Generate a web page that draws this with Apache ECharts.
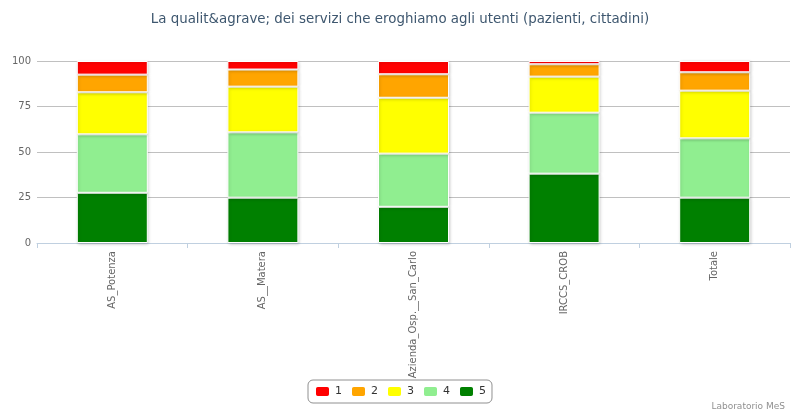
<!DOCTYPE html>
<html>
<head>
<meta charset="utf-8">
<script src="https://cdn.jsdelivr.net/npm/echarts@6/dist/echarts.min.js"></script>
<style>html,body{margin:0;padding:0;background:#fff}#c{width:800px;height:418px}</style>
</head>
<body>
<div id="c"></div>
<script>
const categories = ['AS_Potenza', 'AS__Matera', 'Azienda_Osp.__San_Carlo', 'IRCCS_CROB', 'Totale'];
const s1 = [7.5, 4.7, 7.3, 1.8, 6.2];
const s2 = [9.7, 9.4, 12.9, 6.8, 10.1];
const s3 = [23.1, 25.1, 30.7, 19.8, 26.2];
const s4 = [32.1, 35.9, 29.2, 33.5, 32.6];
const s5 = [27.6, 24.9, 19.9, 38.1, 24.9];
const yTicks = [0, 25, 50, 75, 100];
const seriesNames = ['1', '2', '3', '4', '5'];
const colors = {'1': '#FF0000', '2': '#FFA500', '3': '#FFFF00', '4': '#90EE90', '5': '#008000'};

const font = 'DejaVu Sans';
const chart = echarts.init(document.getElementById('c'), null, {renderer: 'canvas'});
function mk(name, data) {
  return {
    name: name, type: 'bar', stack: 'tot', data: data, barWidth: 71,
    itemStyle: {color: colors[name], borderColor: '#ffffff', borderWidth: 1,
      shadowColor: 'rgba(0,0,0,0.18)', shadowBlur: 3, shadowOffsetX: 1, shadowOffsetY: 1},
    emphasis: {disabled: true}
  };
}
chart.setOption({
  animation: false,
  backgroundColor: '#ffffff',
  textStyle: {fontFamily: font},
  title: [{
    text: 'La qualit&agrave; dei servizi che eroghiamo agli utenti (pazienti, cittadini)',
    left: 'center', top: 8,
    textStyle: {fontFamily: font, fontSize: 13.4, fontWeight: 'normal', color: '#3E576F'}
  }, {
    text: 'Laboratorio MeS', right: 10, bottom: 2,
    textStyle: {fontFamily: font, fontSize: 9, fontWeight: 'normal', color: '#909090'}
  }],
  legend: {
    data: seriesNames, bottom: 15, left: 'center',
    borderColor: '#909090', borderWidth: 1, borderRadius: 5,
    padding: [5, 6, 5, 6],
    itemWidth: 15, itemHeight: 11, itemGap: 8,
    icon: 'roundRect',
    textStyle: {fontFamily: font, fontSize: 11, color: '#333333'}
  },
  grid: {left: 37, right: 10, top: 61, bottom: 175, containLabel: false},
  xAxis: {
    type: 'category', data: categories,
    axisLine: {lineStyle: {color: '#C0D0E0'}},
    axisTick: {show: true, length: 5, lineStyle: {color: '#C0D0E0'}},
    axisLabel: {rotate: 90, fontSize: 10, color: '#666666', margin: 8, fontFamily: font}
  },
  yAxis: {
    type: 'value', min: yTicks[0], max: yTicks[yTicks.length - 1], interval: 25,
    axisLine: {show: false}, axisTick: {show: false},
    splitLine: {lineStyle: {color: '#C0C0C0'}},
    axisLabel: {fontSize: 10, color: '#666666', margin: 6, fontFamily: font}
  },
  series: [mk('5', s5), mk('4', s4), mk('3', s3), mk('2', s2), mk('1', s1)]
});
</script>
</body>
</html>
